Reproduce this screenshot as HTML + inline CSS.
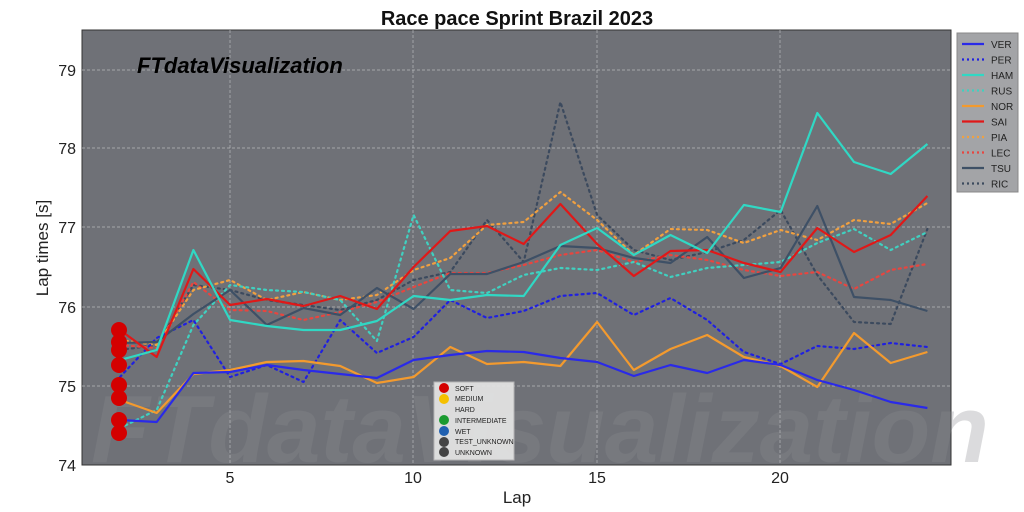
<!DOCTYPE html>
<html><head><meta charset="utf-8"><style>
body{margin:0;background:#fff;width:1024px;height:512px;overflow:hidden}
svg{display:block;font-family:"Liberation Sans",sans-serif}
</style></head><body>
<svg width="1024" height="512" viewBox="0 0 1024 512">
<rect x="0" y="0" width="1024" height="512" fill="#fff"/>
<text x="517" y="25" text-anchor="middle" font-size="20" font-weight="bold" fill="#111">Race pace Sprint Brazil 2023</text>
<rect x="82" y="30" width="869" height="435" fill="#6f7177" stroke="#333" stroke-width="1"/>
<text x="540" y="462" text-anchor="middle" font-size="96" font-weight="bold" font-style="italic" fill="#8a8c90" opacity="0.3">FTdataVisualization</text>
<g stroke="#b8b9bc" stroke-width="0.7" stroke-dasharray="3,2">
<line x1="230" y1="30" x2="230" y2="465"/><line x1="413" y1="30" x2="413" y2="465"/><line x1="597" y1="30" x2="597" y2="465"/><line x1="780" y1="30" x2="780" y2="465"/>
<line x1="82" y1="70" x2="951" y2="70"/><line x1="82" y1="148" x2="951" y2="148"/><line x1="82" y1="227" x2="951" y2="227"/><line x1="82" y1="307" x2="951" y2="307"/><line x1="82" y1="386" x2="951" y2="386"/>
</g>
<g font-size="16" fill="#222" text-anchor="end">
<text x="76" y="76">79</text><text x="76" y="154">78</text><text x="76" y="233">77</text><text x="76" y="313">76</text><text x="76" y="392">75</text><text x="76" y="471">74</text>
</g>
<g font-size="16" fill="#222" text-anchor="middle">
<text x="230" y="483">5</text><text x="413" y="483">10</text><text x="597" y="483">15</text><text x="780" y="483">20</text>
</g>
<text x="517" y="503" text-anchor="middle" font-size="17" fill="#222">Lap</text>
<text transform="translate(48,248) rotate(-90)" text-anchor="middle" font-size="17" fill="#222">Lap times [s]</text>
<text x="137" y="73" font-size="22" font-weight="bold" font-style="italic" fill="#000">FTdataVisualization</text>
<g fill="none" stroke-width="2.2" stroke-linejoin="round">
<polyline stroke="#3c4a5e" stroke-dasharray="2,4" stroke-linecap="round" points="120,350 156.7,345 193.4,285 230.1,290 266.8,300 303.5,305 340.2,310 376.9,300 413.6,280 450.3,272 487,220 523.7,262 560.4,102 597.1,215 633.8,250 670.5,260 707.2,252 743.9,240 780.6,210 817.3,275 854,322 890.7,324 927.4,229"/>
<polyline stroke="#e8453f" stroke-dasharray="2,4" stroke-linecap="round" points="120,345 156.7,348 193.4,282 230.1,310 266.8,311 303.5,320 340.2,312 376.9,302 413.6,287 450.3,273 487,273 523.7,265 560.4,255 597.1,250 633.8,262 670.5,255 707.2,260 743.9,270 780.6,276 817.3,272 854,289 890.7,270 927.4,264"/>
<polyline stroke="#f0a040" stroke-dasharray="2,4" stroke-linecap="round" points="120,340 156.7,345 193.4,290 230.1,280 266.8,300 303.5,292 340.2,300 376.9,295 413.6,270 450.3,258 487,225 523.7,222 560.4,192 597.1,220 633.8,255 670.5,229 707.2,230 743.9,243 780.6,230 817.3,240 854,220 890.7,224 927.4,203"/>
<polyline stroke="#40d0c0" stroke-dasharray="2,4" stroke-linecap="round" points="120,428 156.7,410 193.4,325 230.1,285 266.8,290 303.5,292 340.2,300 376.9,341 413.6,215 450.3,290 487,293 523.7,275 560.4,268 597.1,270 633.8,262 670.5,277 707.2,268 743.9,265 780.6,262 817.3,243 854,229 890.7,250 927.4,232"/>
<polyline stroke="#2020e0" stroke-dasharray="2,4" stroke-linecap="round" points="120,377 156.7,338 193.4,320 230.1,377 266.8,365 303.5,382 340.2,320 376.9,353 413.6,337 450.3,300 487,318 523.7,311 560.4,296 597.1,293 633.8,315 670.5,298 707.2,320 743.9,352 780.6,364 817.3,346 854,349 890.7,343 927.4,347"/>
<polyline stroke="#3e5066" points="120,343 156.7,342 193.4,314 230.1,290 266.8,325 303.5,308 340.2,315 376.9,288 413.6,309 450.3,274 487,274 523.7,262 560.4,246 597.1,248 633.8,258 670.5,263 707.2,237 743.9,278 780.6,268 817.3,206 854,297 890.7,300 927.4,311"/>
<polyline stroke="#f39a2e" points="120,400 156.7,413 193.4,374 230.1,370 266.8,362 303.5,361 340.2,366 376.9,383 413.6,377 450.3,347 487,364 523.7,362 560.4,366 597.1,322 633.8,370 670.5,349 707.2,335 743.9,357 780.6,366 817.3,387 854,333 890.7,363 927.4,352"/>
<polyline stroke="#2a2ae8" points="120,420 156.7,422 193.4,373 230.1,372 266.8,365 303.5,370 340.2,374 376.9,378 413.6,360 450.3,355 487,351 523.7,352 560.4,358 597.1,362 633.8,376 670.5,365 707.2,373 743.9,360 780.6,365 817.3,380 854,390 890.7,402 927.4,408"/>
<polyline stroke="#e01818" points="120,330 156.7,357 193.4,269 230.1,305 266.8,299 303.5,306 340.2,296 376.9,309 413.6,267 450.3,231 487,226 523.7,244 560.4,204 597.1,244 633.8,276 670.5,251 707.2,250 743.9,263 780.6,272 817.3,228 854,252 890.7,235 927.4,196"/>
<polyline stroke="#30d8c4" points="120,360 156.7,350 193.4,250 230.1,320 266.8,326 303.5,330 340.2,330 376.9,321 413.6,296 450.3,300 487,295 523.7,296 560.4,245 597.1,228 633.8,255 670.5,235 707.2,253 743.9,205 780.6,212 817.3,113 854,162 890.7,174 927.4,144"/>
</g>
<g fill="#d40000">
<circle cx="119" cy="330" r="8"/><circle cx="119" cy="342" r="8"/><circle cx="119" cy="350" r="8"/><circle cx="119" cy="365" r="8"/><circle cx="119" cy="385" r="8"/><circle cx="119" cy="398" r="8"/><circle cx="119" cy="420" r="8"/><circle cx="119" cy="433" r="8"/>
</g>
<rect x="434" y="382" width="80" height="78" fill="#e8e8e8" stroke="#bbb" opacity="0.9"/>
<g font-size="7" fill="#222">
<circle cx="444" cy="388" r="5" fill="#d40000"/><text x="455" y="391">SOFT</text>
<circle cx="444" cy="399" r="5" fill="#f5c000"/><text x="455" y="401">MEDIUM</text>
<text x="455" y="412">HARD</text>
<circle cx="444" cy="420" r="5" fill="#1a9a30"/><text x="455" y="423">INTERMEDIATE</text>
<circle cx="444" cy="431" r="5" fill="#2060b0"/><text x="455" y="434">WET</text>
<circle cx="444" cy="442" r="5" fill="#444"/><text x="455" y="444">TEST_UNKNOWN</text>
<circle cx="444" cy="452" r="5" fill="#444"/><text x="455" y="455">UNKNOWN</text>
</g>
<rect x="957" y="33" width="61" height="159" fill="#a3a4a7" stroke="#888"/>
<g stroke-width="2.2" fill="none">
<line x1="962" y1="44" x2="984" y2="44" stroke="#2a2ae8"/>
<line x1="962" y1="59.5" x2="984" y2="59.5" stroke="#2020e0" stroke-dasharray="2,3"/>
<line x1="962" y1="75" x2="984" y2="75" stroke="#30d8c4"/>
<line x1="962" y1="90.5" x2="984" y2="90.5" stroke="#40d0c0" stroke-dasharray="2,3"/>
<line x1="962" y1="106" x2="984" y2="106" stroke="#f39a2e"/>
<line x1="962" y1="121.5" x2="984" y2="121.5" stroke="#e01818"/>
<line x1="962" y1="137" x2="984" y2="137" stroke="#f0a040" stroke-dasharray="2,3"/>
<line x1="962" y1="152.5" x2="984" y2="152.5" stroke="#e8453f" stroke-dasharray="2,3"/>
<line x1="962" y1="168" x2="984" y2="168" stroke="#3e5066"/>
<line x1="962" y1="183.5" x2="984" y2="183.5" stroke="#3c4a5e" stroke-dasharray="2,3"/>
</g>
<g font-size="10" fill="#222">
<text x="991" y="48">VER</text><text x="991" y="63.5">PER</text><text x="991" y="79">HAM</text><text x="991" y="94.5">RUS</text><text x="991" y="110">NOR</text><text x="991" y="125.5">SAI</text><text x="991" y="141">PIA</text><text x="991" y="156.5">LEC</text><text x="991" y="172">TSU</text><text x="991" y="187.5">RIC</text>
</g>
</svg>
</body></html>
